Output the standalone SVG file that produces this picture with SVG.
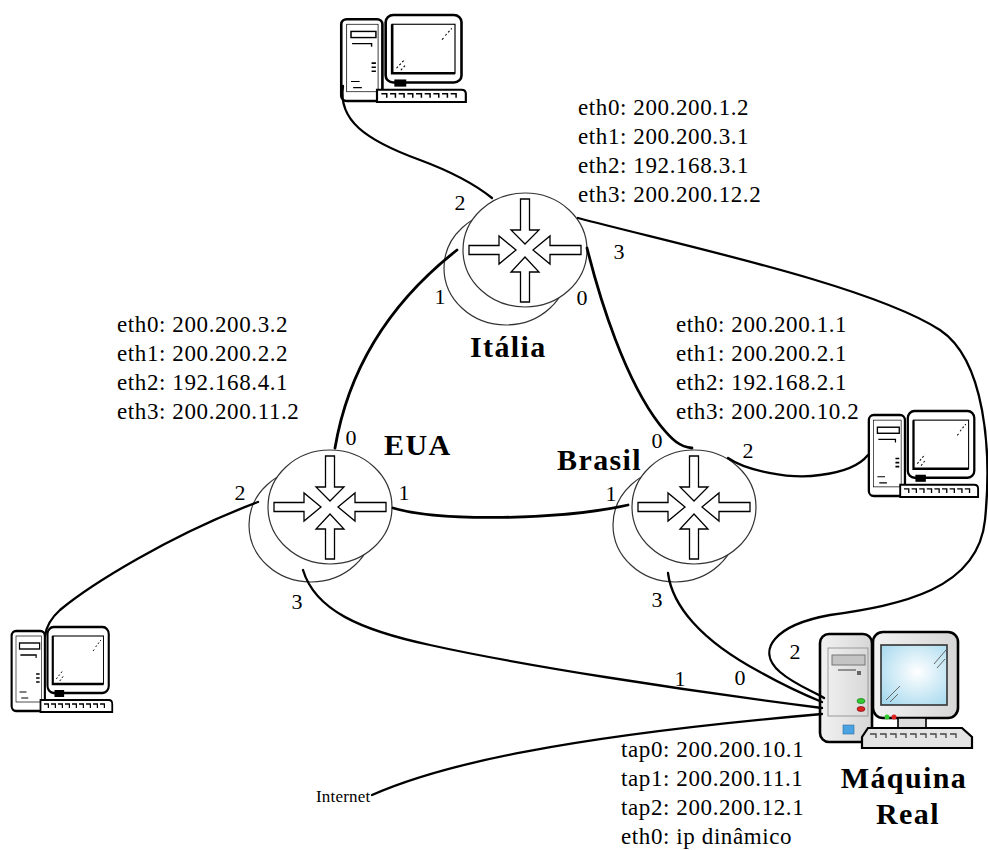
<svg xmlns="http://www.w3.org/2000/svg" xmlns:xlink="http://www.w3.org/1999/xlink" width="988" height="850" viewBox="0 0 988 850">
  <style>
    text { font-family: "Liberation Serif", "Times New Roman", serif; fill: #000; }
    .addr { font-size: 23px; letter-spacing: 0.6px; }
    .port { font-size: 22px; }
    .name { font-size: 30px; font-weight: bold; letter-spacing: 1.4px; }
    .inet { font-size: 17px; letter-spacing: 0.2px; }
    .link { fill: none; stroke: #000; stroke-width: 2.3; stroke-linecap: round; }
    .trunk { stroke-width: 2.8; }
    .rim { fill: #fff; stroke: #333; stroke-width: 1.2; }
    .arr { fill: #fff; stroke: #000; stroke-width: 1.3; stroke-linejoin: miter; }
    .ln { fill: none; stroke: #000; }
  </style>
  <defs>
    <radialGradient id="screenGlow" cx="0.55" cy="0.45" r="0.7">
      <stop offset="0" stop-color="#ffffff"/>
      <stop offset="1" stop-color="#a6d9ee"/>
    </radialGradient>
    <linearGradient id="caseGray" x1="0" y1="0" x2="1" y2="0">
      <stop offset="0" stop-color="#f2f2f2"/>
      <stop offset="1" stop-color="#d6d6d6"/>
    </linearGradient>

    <!-- router: shadow disc, front disc, four inward arrows -->
    <g id="router-icon">
      <ellipse class="rim" cx="-19" cy="18" rx="62" ry="57"/>
      <ellipse class="rim" cx="0" cy="0" rx="62" ry="57"/>
      <polygon class="arr" points="-56,-4.5 -26,-4.5 -26,-14 -9,0 -26,14 -26,4.5 -56,4.5"/>
      <polygon class="arr" points="56,-4.5 25,-4.5 25,-14 8,0 25,14 25,4.5 56,4.5"/>
      <polygon class="arr" points="-4.5,-51 4.5,-51 4.5,-20 14,-20 0,-6 -14,-20 -4.5,-20"/>
      <polygon class="arr" points="-4.5,52 4.5,52 4.5,22 14,22 0,7 -14,22 -4.5,22"/>
    </g>

    <!-- black and white workstation -->
    <symbol id="pc" viewBox="0 0 120 90" preserveAspectRatio="none">
      <rect x="3" y="7" width="38" height="80" rx="5" fill="#fff" stroke="#000" stroke-width="2.4"/>
      <rect x="8" y="12" width="29" height="66" fill="none" stroke="#000" stroke-width="0.7"/>
      <rect x="12" y="19" width="23" height="6" fill="none" stroke="#000" stroke-width="1.4"/>
      <path class="ln" d="M13,31 H31 V34" stroke-width="1.3"/>
      <path class="ln" d="M31,50 h4 M31,54 h4 M31,58 h4" stroke-width="1.6"/>
      <path class="ln" d="M12,68 h8 M14,74 h8" stroke-width="1.2"/>
      <rect x="44" y="3" width="70" height="66" rx="7" fill="#fff" stroke="#000" stroke-width="2.4"/>
      <rect x="50" y="12" width="58" height="48" fill="#fff" stroke="#000" stroke-width="1.1"/>
      <path class="ln" d="M50,12 V60 H108" stroke-width="2.4"/>
      <path class="ln" d="M99,23 l6,-7 M96,27 l2,-2" stroke-width="1" stroke-dasharray="2 2"/>
      <path class="ln" d="M54,55 l8,-9 M58,57 l5,-6" stroke-width="1" stroke-dasharray="2 2"/>
      <rect x="52" y="66" width="11" height="7" fill="#000"/>
      <path d="M36,76 H114 Q118,76 118,80 V88 H36 Z" fill="#fff" stroke="#000" stroke-width="2"/>
      <path class="ln" d="M40,80 h5 v4 M48,80 h5 v4 M56,80 h5 v4 M64,80 h5 v4 M72,80 h5 v4 M80,80 h5 v4 M88,80 h5 v4 M96,80 h5 v4 M104,80 h5 v4" stroke-width="1.4"/>
    </symbol>
  </defs>

  <rect width="988" height="850" fill="#fff"/>

  <!-- routers -->
  <g id="router-italia">
    <use xlink:href="#router-icon" transform="translate(525,250)"/>
    <text class="name" x="470" y="357">Itália</text>
    <text class="addr" x="578" y="115">eth0: 200.200.1.2</text>
    <text class="addr" x="578" y="144">eth1: 200.200.3.1</text>
    <text class="addr" x="578" y="173">eth2: 192.168.3.1</text>
    <text class="addr" x="578" y="202">eth3: 200.200.12.2</text>
  </g>

  <g id="router-eua">
    <use xlink:href="#router-icon" transform="translate(330,507)"/>
    <text class="name" x="384" y="455">EUA</text>
    <text class="addr" x="117" y="332">eth0: 200.200.3.2</text>
    <text class="addr" x="117" y="361">eth1: 200.200.2.2</text>
    <text class="addr" x="117" y="390">eth2: 192.168.4.1</text>
    <text class="addr" x="117" y="419">eth3: 200.200.11.2</text>
  </g>

  <g id="router-brasil">
    <use xlink:href="#router-icon" transform="translate(694,507)"/>
    <text class="name" x="557" y="470">Brasil</text>
    <text class="addr" x="676" y="332">eth0: 200.200.1.1</text>
    <text class="addr" x="676" y="361">eth1: 200.200.2.1</text>
    <text class="addr" x="676" y="390">eth2: 192.168.2.1</text>
    <text class="addr" x="676" y="419">eth3: 200.200.10.2</text>
  </g>

  <!-- LAN hosts -->
  <g id="pc-top">
    <use xlink:href="#pc" x="338" y="12" width="130" height="92"/>
  </g>
  <g id="pc-right">
    <use xlink:href="#pc" x="866" y="408" width="114" height="91"/>
  </g>
  <g id="pc-left">
    <use xlink:href="#pc" x="9" y="624" width="105" height="90"/>
  </g>

  <!-- host machine -->
  <g id="maquina-real">
    <rect x="820" y="634" width="52" height="108" rx="9" fill="url(#caseGray)" stroke="#000" stroke-width="2.6"/>
    <rect x="828" y="648" width="40" height="68" fill="none" stroke="#999" stroke-width="1"/>
    <rect x="832" y="655" width="33" height="10" fill="#c4c4c4" stroke="#777" stroke-width="1"/>
    <path d="M838,670 H856" stroke="#555" stroke-width="1.2"/>
    <rect x="857" y="671" width="4" height="4" fill="#666"/>
    <ellipse cx="861" cy="701" rx="4" ry="2.5" fill="#3c3" stroke="#060" stroke-width="0.6"/>
    <ellipse cx="861" cy="709" rx="4" ry="2.5" fill="#d22" stroke="#600" stroke-width="0.6"/>
    <rect x="843" y="725" width="11" height="9" fill="#4aa3e0" stroke="#2b6ea0" stroke-width="0.6"/>
    <rect x="873" y="632" width="85" height="86" rx="10" fill="url(#caseGray)" stroke="#000" stroke-width="2.6"/>
    <rect x="881" y="645" width="66" height="60" fill="url(#screenGlow)" stroke="#333" stroke-width="1.6"/>
    <path d="M934,664 L946,650 M937,668 L945,659" stroke="#666" stroke-width="1"/>
    <path d="M886,700 L900,686 M890,702 L898,694" stroke="#666" stroke-width="1"/>
    <circle cx="887" cy="717" r="2.5" fill="#3c3"/>
    <circle cx="894" cy="717" r="2.5" fill="#d22"/>
    <rect x="898" y="718" width="28" height="10" fill="#ddd" stroke="#000" stroke-width="1.6"/>
    <path d="M868,728 H962 L972,737 V748 H862 V737 Z" fill="#e4e4e4" stroke="#000" stroke-width="2.2"/>
    <path d="M870,734 h6 v4 M880,734 h6 v4 M890,734 h6 v4 M900,734 h6 v4 M910,734 h6 v4 M920,734 h6 v4 M930,734 h6 v4 M940,734 h6 v4 M950,734 h6 v4" fill="none" stroke="#444" stroke-width="1.3"/>
    <text class="name" x="904" y="788" text-anchor="middle">Máquina</text>
    <text class="name" x="908" y="824" text-anchor="middle">Real</text>
    <text class="addr" x="621" y="757">tap0: 200.200.10.1</text>
    <text class="addr" x="621" y="786">tap1: 200.200.11.1</text>
    <text class="addr" x="621" y="815">tap2: 200.200.12.1</text>
    <text class="addr" x="621" y="844">eth0: ip dinâmico</text>
  </g>

  <g id="internet">
    <text class="inet" x="316" y="802">Internet</text>
  </g>

  <!-- connectors -->
  <g id="links">
    <path class="link" d="M343,86 C338,120 365,140 420,160 C455,173 477,186 492,198"/>
    <path class="link" d="M578,218 C680,245 870,285 940,330 C985,360 992,450 985,520 C978,590 900,605 830,615 C775,625 755,650 780,672 C795,685 815,692 824,698"/>
    <path class="link trunk" d="M457,250 Q355,330 335,448"/>
    <path class="link trunk" d="M587,248 C600,300 625,380 660,425 C672,440 680,447 692,448"/>
    <path class="link" d="M728,458 C745,470 790,480 820,475 C845,472 860,465 868,455"/>
    <path class="link trunk" d="M393,508 C440,522 560,520 628,505"/>
    <path class="link" d="M258,502 C170,535 90,585 60,610 C50,619 46,628 45,636"/>
    <path class="link" d="M303,570 C315,610 360,630 430,645 C520,665 680,690 822,708"/>
    <path class="link" d="M668,573 C672,605 700,640 760,672 C785,686 805,695 822,702"/>
    <path class="link" d="M372,795 C440,765 560,737 822,714"/>
  </g>

  <!-- interface numbers -->
  <g id="ports" text-anchor="middle">
    <text class="port" x="460" y="210">2</text>
    <text class="port" x="440" y="304">1</text>
    <text class="port" x="582" y="305">0</text>
    <text class="port" x="619" y="259">3</text>
    <text class="port" x="351" y="445">0</text>
    <text class="port" x="404" y="500">1</text>
    <text class="port" x="240" y="500">2</text>
    <text class="port" x="297" y="609">3</text>
    <text class="port" x="657" y="448">0</text>
    <text class="port" x="748" y="458">2</text>
    <text class="port" x="611" y="501">1</text>
    <text class="port" x="657" y="607">3</text>
    <text class="port" x="795" y="659">2</text>
    <text class="port" x="680" y="686">1</text>
    <text class="port" x="740" y="685">0</text>
  </g>
</svg>
